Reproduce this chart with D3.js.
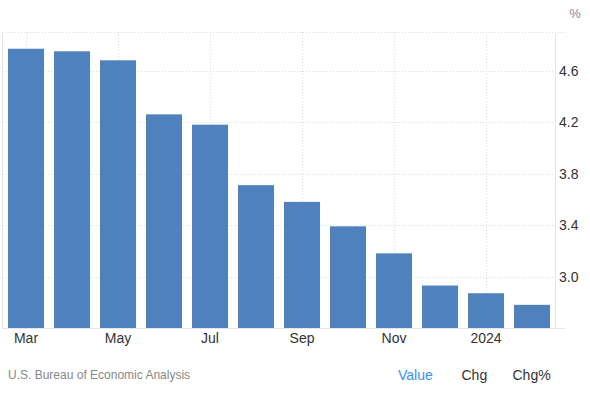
<!DOCTYPE html>
<html>
<head>
<meta charset="utf-8">
<script src="https://cdn.jsdelivr.net/npm/d3@7"></script>
<style>
  body { margin: 0; background: #fff; }
  svg { display: block; font-family: "Liberation Sans", Arial, sans-serif; }
</style>
</head>
<body>
<div id="root"></div>
<script>
var periods = ["Mar 2023", "Apr 2023", "May 2023", "Jun 2023", "Jul 2023", "Aug 2023",
  "Sep 2023", "Oct 2023", "Nov 2023", "Dec 2023", "Jan 2024", "Feb 2024"];
var values = [4.77, 4.75, 4.68, 4.26, 4.18, 3.71, 3.58, 3.39, 3.18, 2.93, 2.87, 2.78];
var tickPeriods = ["Mar 2023", "May 2023", "Jul 2023", "Sep 2023", "Nov 2023", "Jan 2024"];
var tickLabels = ["Mar", "May", "Jul", "Sep", "Nov", "2024"];
var yTicks = [3.0, 3.4, 3.8, 4.2, 4.6];
var yDomain = [2.6, 4.9];

var width = 590;
var height = 395;
// plot box (named to avoid clashing with window.top)
var plotLeft = 3, plotRight = 555, plotTop = 32, plotBottom = 328;

var svg = d3
  .select("#root")
  .append("svg")
  .attr("width", width)
  .attr("height", height);

var xScale = d3
  .scaleBand()
  .domain(periods)
  .range([plotLeft, plotRight])
  .paddingInner(10 / 46)
  .paddingOuter(5 / 46);

var yScale = d3.scaleLinear().domain(yDomain).range([plotBottom, plotTop]);

// grid
var grid = svg.append("g").attr("stroke", "#dcdcdc").attr("stroke-dasharray", "1,2");
grid
  .selectAll(".hgrid")
  .data(yTicks)
  .enter()
  .append("line")
  .attr("x1", plotLeft)
  .attr("x2", plotRight)
  .attr("y1", (d) => Math.round(yScale(d)) + 0.5)
  .attr("y2", (d) => Math.round(yScale(d)) + 0.5);
grid
  .append("line")
  .attr("x1", plotLeft)
  .attr("x2", 565)
  .attr("y1", plotTop + 0.5)
  .attr("y2", plotTop + 0.5);
grid
  .selectAll(".vgrid")
  .data(tickPeriods)
  .enter()
  .append("line")
  .attr("x1", (d) => Math.round(xScale(d) + xScale.bandwidth() / 2) + 0.5)
  .attr("x2", (d) => Math.round(xScale(d) + xScale.bandwidth() / 2) + 0.5)
  .attr("y1", plotTop)
  .attr("y2", plotBottom);

// bars
svg
  .selectAll(".bar")
  .data(values)
  .enter()
  .append("rect")
  .attr("class", "bar")
  .attr("x", (d, i) => xScale(periods[i]))
  .attr("width", xScale.bandwidth())
  .attr("y", (d) => yScale(d))
  .attr("height", (d) => plotBottom - yScale(d))
  .attr("fill", "#4f81bd");

// frame lines
var frame = svg.append("g").attr("stroke", "#e6e6e6");
frame.append("line").attr("x1", 2.5).attr("x2", 2.5).attr("y1", plotTop).attr("y2", plotBottom);
frame.append("line").attr("x1", plotRight + 0.5).attr("x2", plotRight + 0.5).attr("y1", plotTop).attr("y2", plotBottom);
frame.append("line").attr("x1", 2).attr("x2", 565).attr("y1", plotBottom + 0.5).attr("y2", plotBottom + 0.5);

// y axis on the right
var yAxis = d3
  .axisRight(yScale)
  .tickValues(yTicks)
  .tickFormat(d3.format(".1f"))
  .tickSize(0)
  .tickPadding(4);
var gy = svg
  .append("g")
  .attr("transform", "translate(" + plotRight + ",0)")
  .call(yAxis);
gy.select(".domain").remove();
gy.selectAll("text")
  .attr("fill", "#333")
  .style("font-size", "14px")
  .style("font-family", '"Liberation Sans", Arial, sans-serif');

// x axis
var xAxis = d3
  .axisBottom(xScale)
  .tickValues(tickPeriods)
  .tickFormat((d, i) => tickLabels[i])
  .tickSize(0)
  .tickPadding(5);
var gx = svg
  .append("g")
  .attr("transform", "translate(0," + plotBottom + ")")
  .call(xAxis);
gx.select(".domain").remove();
gx.selectAll("text")
  .attr("fill", "#333")
  .style("font-size", "14px")
  .style("font-family", '"Liberation Sans", Arial, sans-serif');

// unit
svg
  .append("text")
  .attr("x", 575)
  .attr("y", 18)
  .attr("text-anchor", "middle")
  .attr("font-size", 13)
  .attr("fill", "#888")
  .text("%");

// footer
svg
  .append("text")
  .attr("x", 8)
  .attr("y", 379)
  .attr("font-size", 12)
  .attr("fill", "#888")
  .text("U.S. Bureau of Economic Analysis");

var footItems = [
  { label: "Value", x: 398, color: "#3d91f0" },
  { label: "Chg", x: 461.5, color: "#333" },
  { label: "Chg%", x: 512.5, color: "#333" }
];
svg
  .selectAll(".foot")
  .data(footItems)
  .enter()
  .append("text")
  .attr("x", (d) => d.x)
  .attr("y", 380)
  .attr("font-size", 14)
  .attr("fill", (d) => d.color)
  .text((d) => d.label);
</script>
</body>
</html>
